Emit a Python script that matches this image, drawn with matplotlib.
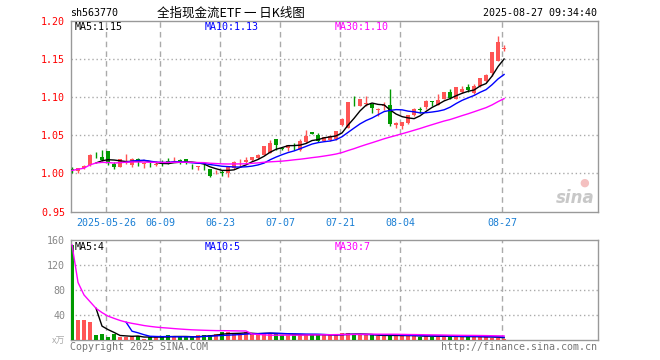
import matplotlib
matplotlib.use("Agg")
import matplotlib.pyplot as plt
import numpy as np

# ---------------- data ----------------
opens = [1.006, 1.003, 1.0075, 1.011, 1.0245, 1.022, 1.030, 1.013, 1.009, 1.0185,
         1.011, 1.019, 1.0125, 1.013, 1.011, 1.015, 1.016, 1.0185, 1.018, 1.0185,
         1.0125, 1.0088, 1.0115, 1.0057, 1.0017, 1.0017, 1.0005, 1.007, 1.0133, 1.0155,
         1.017, 1.020, 1.024, 1.0267, 1.0454, 1.0326, 1.0328, 1.0362, 1.031, 1.041,
         1.0537, 1.0507, 1.0428, 1.0433, 1.045, 1.0628, 1.060, 1.0925, 1.0887, 1.0915,
         1.0908, 1.083, 1.0884, 1.0899, 1.0628, 1.0616, 1.0655, 1.076, 1.0836, 1.0865,
         1.0945, 1.090, 1.0978, 1.1065, 1.098, 1.107, 1.113, 1.105, 1.114, 1.1204,
         1.1314, 1.1475, 1.1635]
highs = [1.008, 1.007, 1.011, 1.025, 1.028, 1.031, 1.030, 1.015, 1.019, 1.026,
         1.020, 1.020, 1.015, 1.015, 1.016, 1.018, 1.020, 1.021, 1.019, 1.019,
         1.013, 1.010, 1.013, 1.006, 1.005, 1.005, 1.009, 1.016, 1.019, 1.022,
         1.022, 1.025, 1.036, 1.044, 1.0455, 1.034, 1.0375, 1.040, 1.045, 1.0563,
         1.054, 1.053, 1.048, 1.050, 1.056, 1.072, 1.094, 1.1017, 1.098, 1.1017,
         1.091, 1.086, 1.094, 1.111, 1.068, 1.068, 1.0768, 1.0855, 1.0868, 1.096,
         1.095, 1.1045, 1.1065, 1.111, 1.1135, 1.1145, 1.1175, 1.1165, 1.1255, 1.130,
         1.159, 1.180, 1.1676]
lows = [1.000, 1.001, 1.006, 1.010, 1.020, 1.016, 1.011, 1.0065, 1.008, 1.013,
        1.009, 1.010, 1.0075, 1.008, 1.010, 1.010, 1.013, 1.016, 1.013, 1.013,
        1.006, 1.005, 1.005, 0.996, 0.999, 0.997, 0.996, 1.006, 1.008, 1.014,
        1.016, 1.019, 1.024, 1.0265, 1.031, 1.031, 1.030, 1.031, 1.029, 1.040,
        1.0515, 1.041, 1.042, 1.042, 1.044, 1.062, 1.060, 1.0878, 1.088, 1.088,
        1.079, 1.075, 1.083, 1.0616, 1.0598, 1.058, 1.065, 1.075, 1.079, 1.085,
        1.0888, 1.090, 1.097, 1.097, 1.0975, 1.105, 1.106, 1.104, 1.113, 1.120,
        1.127, 1.147, 1.1606]
closes = [1.004, 1.007, 1.010, 1.024, 1.024, 1.018, 1.014, 1.008, 1.019, 1.019,
          1.019, 1.015, 1.013, 1.012, 1.0125, 1.013, 1.014, 1.019, 1.015, 1.0145,
          1.012, 1.009, 1.011, 0.997, 1.002, 1.0012, 1.009, 1.0145, 1.0137, 1.018,
          1.021, 1.0245, 1.0354, 1.0398, 1.0376, 1.0322, 1.037, 1.0358, 1.0428, 1.0485,
          1.0515, 1.0428, 1.0476, 1.049, 1.055, 1.0711, 1.0938, 1.092, 1.0978, 1.092,
          1.0851, 1.085, 1.0888, 1.0646, 1.0654, 1.068, 1.0768, 1.0838, 1.0832, 1.0943,
          1.0940, 1.0965, 1.1065, 1.0985, 1.113, 1.110, 1.1095, 1.115, 1.1248, 1.129,
          1.159, 1.172, 1.164]
volumes = [152, 32.5, 32.5, 29.5, 8.5, 10, 5, 10, 5, 5,
           7, 7, 2, 5, 5, 7, 8.5, 5, 5, 5,
           5, 8.5, 8.5, 8.5, 10, 13, 13, 10, 10, 13,
           10, 10, 12, 12, 10, 9, 9, 8, 9, 10,
           9, 9, 8, 8, 9, 11, 12, 9, 9, 8,
           8, 7, 7, 9, 8, 7, 7, 7, 6, 7,
           6, 6, 7, 6, 6, 5, 6, 7, 5, 5,
           4, 4, 2]
tick_index = [6, 15, 25, 35, 45, 55, 72]
tick_labels = ["2025-05-26", "06-09", "06-23", "07-07", "07-21", "08-04", "08-27"]
price_ticks = [0.95, 1.00, 1.05, 1.10, 1.15, 1.20]
vol_ticks = [40, 80, 120, 160]

# ---------------- helpers ----------------
def ma(vals, n, cumulative_start=False):
    out = []
    for i in range(len(vals)):
        if i + 1 >= n:
            out.append(np.mean(vals[i + 1 - n:i + 1]))
        elif cumulative_start:
            out.append(np.mean(vals[:i + 1]))
        else:
            out.append(np.nan)
    return np.array(out)

RED = "#ff5555"
GREEN = "#009900"
GRID = "#aaaaaa"
BORDER = "#999999"
MONO = "DejaVu Sans Mono"
FS = 7.2

W, H = 660, 360
fig = plt.figure(figsize=(6.6, 3.6), dpi=100)
fig.patch.set_facecolor("white")

def rect(x0, y0, x1, y1):
    return [x0 / W, 1 - y1 / H, (x1 - x0) / W, (y1 - y0) / H]

ax = fig.add_axes(rect(70.7, 20.6, 597.7, 211.7))
axv = fig.add_axes(rect(70.7, 240.0, 597.7, 340.3))

n = len(closes)
x = np.arange(n)
XL = (-0.22, 87.6)
bw = 0.8

# ---------------- price panel ----------------
for i in range(n):
    up = closes[i] >= opens[i]
    col = RED if up else GREEN
    ax.vlines(x[i], lows[i], highs[i], color=col, linewidth=1, zorder=3)
    lo, hi = min(opens[i], closes[i]), max(opens[i], closes[i])
    h = max(hi - lo, 0.0006)
    ax.add_patch(plt.Rectangle((x[i] - bw / 2, lo), bw, h, facecolor=col,
                               edgecolor=col, linewidth=0, zorder=4))

c = np.array(closes)
ax.plot(x, ma(c, 5), color="black", lw=1, zorder=5)
ax.plot(x, ma(c, 10), color="#0000ff", lw=1, zorder=5)
ax.plot(x, ma(c, 30, cumulative_start=True), color="#ff00ff", lw=1, zorder=5)

ax.set_xlim(*XL)
ax.set_ylim(0.95, 1.20)
ax.set_yticks(price_ticks)
ax.set_yticklabels([f"{t:.2f}" for t in price_ticks])
ax.tick_params(axis="y", length=0, pad=4, labelsize=FS, labelcolor="red")
for lb in ax.get_yticklabels():
    lb.set_family(MONO)
for t in price_ticks[1:-1]:
    ax.axhline(t, color=GRID, lw=1, ls=(0, (1, 2)), zorder=1)
ax.set_xticks([t - 0.28 for t in tick_index])
ax.set_xticklabels(tick_labels)
ax.tick_params(axis="x", length=0, pad=4.5, labelsize=FS, labelcolor="#1a7fd4")
for lb in ax.get_xticklabels():
    lb.set_family(MONO)
for t in tick_index:
    ax.axvline(t - 0.28, color=GRID, lw=1, ls=(0, (4, 3)), zorder=1)
for s in ax.spines.values():
    s.set_color(BORDER)
    s.set_linewidth(1)

ma5 = ma(c, 5)[-1]
ma10 = ma(c, 10)[-1]
ma30 = ma(c, 30)[-1]
ax.text(4 / 527, 0.965, f"MA5:{ma5:.2f}", transform=ax.transAxes, fontsize=FS,
        family=MONO, color="black", va="center", ha="left")
ax.text(134 / 527, 0.965, f"MA10:{ma10:.2f}", transform=ax.transAxes, fontsize=FS,
        family=MONO, color="#0000ff", va="center", ha="left")
ax.text(264 / 527, 0.965, f"MA30:{ma30:.2f}", transform=ax.transAxes, fontsize=FS,
        family=MONO, color="#ff00ff", va="center", ha="left")
ax.text(0.995, 0.07, "sina", transform=ax.transAxes, fontsize=12, style="italic",
        weight="bold", color="#c8c8c8", ha="right", va="center", family="DejaVu Sans")
ax.text(0.975, 0.15, "●", transform=ax.transAxes, fontsize=8,
        color="#f4c0c0", ha="center", va="center", family="DejaVu Sans")

# ---------------- volume panel ----------------
v = np.array(volumes, dtype=float)
vcols = [RED if closes[i] >= opens[i] else GREEN for i in range(n)]
axv.bar(x, v, width=bw, color=vcols, linewidth=0, zorder=3)
axv.plot(x, ma(v, 5), color="black", lw=1, zorder=5)
axv.plot(x, ma(v, 10), color="#0000ff", lw=1, zorder=5)
axv.plot(x, ma(v, 30, cumulative_start=True), color="#ff00ff", lw=1, zorder=5)
axv.set_xlim(*XL)
axv.set_ylim(0, 160)
axv.set_yticks(vol_ticks)
axv.set_yticklabels([str(t) for t in vol_ticks])
axv.tick_params(axis="y", length=0, pad=4, labelsize=FS, labelcolor="#888888")
for lb in axv.get_yticklabels():
    lb.set_family(MONO)
axv.set_xticks([])
for t in vol_ticks[:-1]:
    axv.axhline(t, color=GRID, lw=1, ls=(0, (1, 2)), zorder=1)
for t in tick_index:
    axv.axvline(t - 0.28, color=GRID, lw=1, ls=(0, (4, 3)), zorder=1)
for s in axv.spines.values():
    s.set_color(BORDER)
    s.set_linewidth(1)

vm5 = ma(v, 5)[-1]
vm10 = ma(v, 10)[-1]
vm30 = ma(v, 30)[-1]
axv.text(4 / 527, 0.93, f"MA5:{vm5:.0f}", transform=axv.transAxes, fontsize=FS,
         family=MONO, color="black", va="center", ha="left")
axv.text(134 / 527, 0.93, f"MA10:{vm10:.0f}", transform=axv.transAxes, fontsize=FS,
         family=MONO, color="#0000ff", va="center", ha="left")
axv.text(264 / 527, 0.93, f"MA30:{vm30:.0f}", transform=axv.transAxes, fontsize=FS,
         family=MONO, color="#ff00ff", va="center", ha="left")

# ---------------- figure texts ----------------
def px(xp, yp):
    return xp / W, 1 - yp / H

fig.text(*px(70, 13.5), "sh563770", fontsize=FS, family=MONO, color="black",
         ha="left", va="center")
fig.text(*px(231, 13.5), "全指现金流ETF 一 日K线图", fontsize=9,
         family=["Noto Sans CJK SC", "DejaVu Sans"], color="black", ha="center", va="center")
fig.text(*px(597, 13.5), "2025-08-27 09:34:40", fontsize=FS, family=MONO, color="black",
         ha="right", va="center")
fig.text(*px(65, 341), "x万", fontsize=6.5, family=["Noto Sans CJK SC", "DejaVu Sans"],
         color="#aaaaaa", ha="right", va="center")
fig.text(*px(70, 346.5), "Copyright 2025 SINA.COM", fontsize=FS, family=MONO,
         color="#777777", ha="left", va="center")
fig.text(*px(597, 346.5), "http://finance.sina.com.cn", fontsize=FS, family=MONO,
         color="#777777", ha="right", va="center")

fig.savefig("out.png", dpi=100, facecolor="white")
